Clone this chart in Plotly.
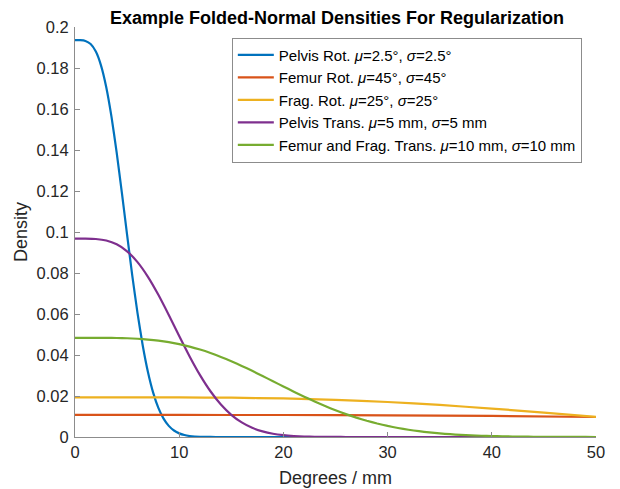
import plotly.graph_objects as go

# ---- data ----
blue_x = [0, 0.5, 1, 1.5, 2, 2.5, 3, 3.5, 4, 4.5, 5, 5.5, 6, 6.5, 7, 7.5, 8, 8.5, 9, 9.5,
          10, 10.5, 11, 11.5, 12, 12.5, 13, 14, 20, 30, 40, 50]
blue_y = [0.19358, 0.19356, 0.19318, 0.19168, 0.18800, 0.18118, 0.17061, 0.15627, 0.13873,
          0.11905, 0.09856, 0.07863, 0.06039, 0.04461, 0.03170, 0.02165, 0.01421, 0.00896,
          0.00543, 0.00317, 0.00177, 0.00095, 0.00049, 0.00024, 0.00012, 0.00005, 0.00002,
          0.0, 0.0, 0.0, 0.0, 0.0]

orange_x = [0, 10, 20, 30, 40, 50]
orange_y = [0.010754, 0.010752, 0.010721, 0.010597, 0.010300, 0.009766]

yellow_x = [0, 5, 10, 15, 20, 25, 30, 35, 40, 45, 50]
yellow_y = [0.019358, 0.019355, 0.019318, 0.019168, 0.018800, 0.018118, 0.017061,
            0.015627, 0.013873, 0.011905, 0.009856]

purple_x = list(range(0, 27)) + [30, 40, 50]
purple_y = [0.09679, 0.09677, 0.09659, 0.09584, 0.09400, 0.09059, 0.08530, 0.07813,
            0.06936, 0.05952, 0.04928, 0.03931, 0.03019, 0.02231, 0.01585, 0.01083,
            0.00711, 0.00448, 0.00272, 0.00158, 0.00089, 0.00048, 0.00025, 0.00012,
            0.00006, 0.00003, 0.00001, 0.0, 0.0, 0.0]

green_x = list(range(0, 51))
green_y = [0.04839, 0.04839, 0.04839, 0.04836, 0.04830, 0.04816, 0.04792, 0.04754,
           0.04700, 0.04626, 0.04529, 0.04409, 0.04265, 0.04097, 0.03907, 0.03696,
           0.03468, 0.03227, 0.02976, 0.02720, 0.02464, 0.02211, 0.01966, 0.01731,
           0.01510, 0.01304, 0.01115, 0.00945, 0.00792, 0.00658, 0.00541, 0.00441,
           0.00355, 0.00283, 0.00224, 0.00175, 0.00136, 0.00104, 0.00079, 0.00060,
           0.00044, 0.00033, 0.00024, 0.00017, 0.00012, 0.00009, 0.00006, 0.00004,
           0.00003, 0.00002, 0.00001]

names = [
    "Pelvis Rot. <i>μ</i>=2.5°, <i>σ</i>=2.5°",
    "Femur Rot. <i>μ</i>=45°, <i>σ</i>=45°",
    "Frag. Rot. <i>μ</i>=25°, <i>σ</i>=25°",
    "Pelvis Trans. <i>μ</i>=5 mm, <i>σ</i>=5 mm",
    "Femur and Frag. Trans. <i>μ</i>=10 mm, <i>σ</i>=10 mm",
]
colors = ["#0072BD", "#D95319", "#EDB120", "#7E2F8E", "#77AC30"]

x_ticks = [0, 10, 20, 30, 40, 50]
y_ticks = [0, 0.02, 0.04, 0.06, 0.08, 0.1, 0.12, 0.14, 0.16, 0.18, 0.2]
y_tick_text = ["0", "0.02", "0.04", "0.06", "0.08", "0.1", "0.12", "0.14", "0.16", "0.18", "0.2"]

series = [(blue_x, blue_y), (orange_x, orange_y), (yellow_x, yellow_y),
          (purple_x, purple_y), (green_x, green_y)]

fig = go.Figure()
for (xs, ys), nm, col in zip(series, names, colors):
    fig.add_trace(go.Scatter(x=xs, y=ys, mode="lines", name=nm,
                             line=dict(color=col, width=2.2, shape="spline", smoothing=0.5)))

font_family = "Liberation Sans, Arial, Helvetica, sans-serif"
# the page body keeps an 8px margin, so the figure is sized to fill the rest of the window
fig.update_layout(
    width=612, height=481,
    margin=dict(l=67, r=24, t=19, b=52),
    paper_bgcolor="white", plot_bgcolor="white",
    font=dict(family=font_family, color="#262626", size=16.5),
    title=dict(text="<b>Example Folded-Normal Densities For Regularization</b>",
               x=0.5376, xanchor="center", y=0.979, yanchor="middle",
               font=dict(size=18, color="black", family=font_family)),
    showlegend=True,
    legend=dict(x=0.301, y=0.974, xanchor="left", yanchor="top",
                bgcolor="white", bordercolor="#8c8c8c", borderwidth=1,
                font=dict(size=15, color="black", family=font_family),
                tracegroupgap=0, itemwidth=36),
    xaxis=dict(range=[0, 50], tickvals=x_ticks, ticks="inside", ticklen=5,
               tickcolor="#8c8c8c", showline=True, linecolor="#8c8c8c", linewidth=1,
               showgrid=False, zeroline=False, mirror=False, automargin=False,
               title=dict(text="Degrees / mm", font=dict(size=18), standoff=11),
               tickfont=dict(size=16.5)),
    yaxis=dict(range=[0, 0.2], tickvals=y_ticks, ticktext=y_tick_text, ticks="inside",
               ticklen=5, tickcolor="#8c8c8c", showline=True, linecolor="#8c8c8c",
               linewidth=1, showgrid=False, zeroline=False, mirror=False, automargin=False,
               ticklabelstandoff=2,
               title=dict(text="Density", font=dict(size=18), standoff=4),
               tickfont=dict(size=16.5)),
)

fig.write_html("out.html")
